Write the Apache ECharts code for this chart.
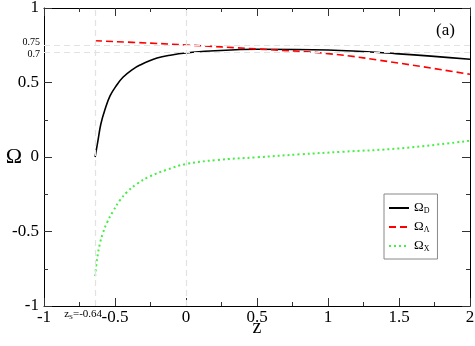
<!DOCTYPE html>
<html>
<head>
<meta charset="utf-8">
<script src="https://cdn.jsdelivr.net/npm/echarts@6/dist/echarts.min.js"></script>
<style>
html,body{margin:0;padding:0;background:#fff;}
#chart{width:475px;height:346px;}
</style>
</head>
<body>
<div id="chart"></div>
<script>
// values
var zD = [-0.64, -0.62, -0.6, -0.57, -0.535, -0.49, -0.444, -0.38, -0.324, -0.204, -0.1, 0, 0.17, 0.5, 1.0, 1.5, 2.0];
var omegaD = [0.0, 0.11, 0.22, 0.32, 0.41, 0.48, 0.535, 0.585, 0.617, 0.664, 0.685, 0.698, 0.711, 0.723, 0.718, 0.692, 0.656];
var zL = [-0.64, -0.25, 0, 0.5, 1.0, 1.5, 2.0];
var omegaL = [0.78, 0.764, 0.752, 0.725, 0.694, 0.63, 0.555];
var zX = [-0.64, -0.627, -0.606, -0.585, -0.556, -0.514, -0.465, -0.415, -0.345, -0.254, -0.134, 0, 0.218, 0.5, 0.803, 1.1, 1.507, 2.0];
var omegaX = [-0.8, -0.69, -0.58, -0.51, -0.44, -0.365, -0.29, -0.235, -0.18, -0.13, -0.085, -0.047, -0.02, -0.002, 0.018, 0.035, 0.058, 0.109];
var zs = -0.64;
var refLines = [0.75, 0.7];

var font = "'Times New Roman', 'Liberation Serif', serif";
function pairs(xs, ys) {
    var out = [];
    for (var i = 0; i < xs.length; i++) out.push([xs[i], ys[i]]);
    return out;
}

var chart = echarts.init(document.getElementById('chart'));
var lineStyle = {show: true, onZero: false, lineStyle: {color: '#000'}};
var tickStyle = {show: true, inside: true, length: 8, lineStyle: {color: '#333'}};
var minorStyle = {show: true, splitNumber: 2, length: 4, lineStyle: {color: '#333'}};
var option = {
    backgroundColor: '#fff',
    animation: false,
    textStyle: {fontFamily: font},
    grid: {left: 44, right: 5, top: 8, bottom: 40, outerBoundsMode: 'none', containLabel: false},
    xAxis: [
        {
            type: 'value', min: -1, max: 2, interval: 0.5,
            name: 'z', nameLocation: 'middle', nameGap: 12, nameMoveOverlap: false,
            nameTextStyle: {fontFamily: font, fontSize: 20, color: '#000', verticalAlign: 'top'},
            axisLine: lineStyle,
            axisTick: tickStyle, minorTick: minorStyle,
            splitLine: {show: false},
            axisLabel: {fontFamily: font, fontSize: 17, color: '#000', margin: 3}
        },
        {
            type: 'value', position: 'top', min: -1, max: 2, interval: 0.5,
            axisLine: lineStyle,
            axisTick: tickStyle, minorTick: minorStyle,
            splitLine: {show: false}, axisLabel: {show: false}
        }
    ],
    yAxis: [
        {
            type: 'value', min: -1, max: 1, interval: 0.5,
            name: 'Ω', nameLocation: 'middle', nameRotate: 0, nameGap: 22, nameMoveOverlap: false,
            nameTextStyle: {fontFamily: font, fontSize: 22, color: '#000', align: 'right'},
            axisLine: lineStyle,
            axisTick: tickStyle, minorTick: minorStyle,
            splitLine: {show: false},
            axisLabel: {fontFamily: font, fontSize: 17, color: '#000', margin: 5}
        },
        {
            type: 'value', position: 'right', min: -1, max: 1, interval: 0.5,
            axisLine: lineStyle,
            axisTick: tickStyle, minorTick: minorStyle,
            splitLine: {show: false}, axisLabel: {show: false}
        }
    ],
    legend: {
        orient: 'vertical', left: 384, top: 194,
        itemWidth: 20, itemHeight: 10, itemGap: 5,
        padding: [7, 8, 6, 4],
        borderColor: '#888', borderWidth: 1,
        itemStyle: {opacity: 0},
        textStyle: {
            fontFamily: font, fontSize: 13, color: '#000', lineHeight: 14,
            rich: {
                b: {fontFamily: font, fontSize: 13, lineHeight: 14},
                s: {fontFamily: font, fontSize: 8, lineHeight: 14, padding: [6, 0, 0, 0]}
            }
        },
        formatter: function(name) {
            var sub = {'ΩD': 'D', 'ΩΛ': 'Λ', 'ΩX': 'X'}[name];
            return '{b|Ω}{s|' + sub + '}';
        },
        data: ['ΩD', 'ΩΛ', 'ΩX']
    },
    graphic: [
        {type: 'text', left: 436, top: 22, style: {text: '(a)', fontFamily: font, fontSize: 17, fill: '#000'}}
    ],
    series: [
        {
            name: 'ΩD', type: 'line', smooth: 0.4, showSymbol: false, symbol: 'none',
            data: pairs(zD, omegaD),
            lineStyle: {color: '#000', width: 1.6},
            itemStyle: {color: '#000'},
            markLine: {
                silent: true, symbol: 'none', animation: false,
                lineStyle: {color: '#e2e2e2', type: [6, 4], width: 1.2},
                label: {show: false},
                data: [
                    {
                        xAxis: zs,
                        label: {
                            show: true, position: 'start', distance: 2, offset: [-12, 0],
                            formatter: '{a|z}{s|S}{a|=-0.64}',
                            rich: {
                                a: {fontFamily: font, fontSize: 11, color: '#000'},
                                s: {fontFamily: font, fontSize: 7, color: '#000', padding: [6, 0, 0, 0]}
                            }
                        }
                    },
                    {xAxis: 0},
                    {yAxis: refLines[0], label: {show: true, position: 'start', distance: 4, offset: [0, -3], formatter: '0.75', fontFamily: font, fontSize: 10, color: '#000'}},
                    {yAxis: refLines[1], label: {show: true, position: 'start', distance: 4, offset: [0, 2], formatter: '0.7', fontFamily: font, fontSize: 10, color: '#000'}}
                ]
            },
            z: 3
        },
        {
            name: 'ΩΛ', type: 'line', smooth: 0.4, showSymbol: false, symbol: 'none',
            data: pairs(zL, omegaL),
            lineStyle: {color: '#ff0000', width: 1.6, type: [7, 4]},
            itemStyle: {color: '#ff0000'},
            z: 3
        },
        {
            name: 'ΩX', type: 'line', smooth: 0.4, showSymbol: false, symbol: 'none',
            data: pairs(zX, omegaX),
            lineStyle: {color: '#44ee44', width: 2, type: [2, 3]},
            itemStyle: {color: '#44ee44'},
            z: 3
        }
    ]
};
chart.setOption(option);
</script>
</body>
</html>
